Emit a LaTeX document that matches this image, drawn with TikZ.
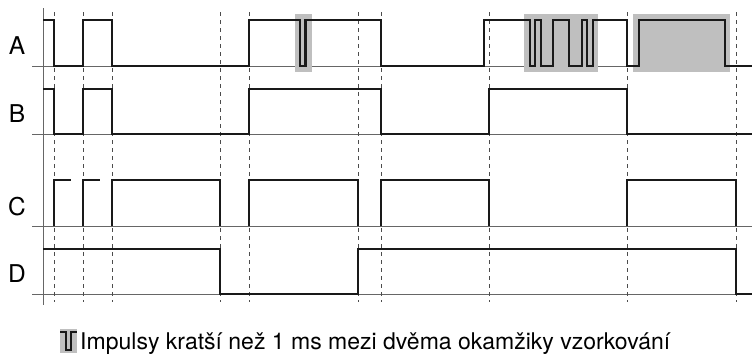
\documentclass[tikz,border=0pt]{standalone}
\usepackage{fontspec}
\setmainfont{TeX Gyre Heros}
\begin{document}
\begin{tikzpicture}[x=1pt,y=-1pt,
  signal/.style={line width=2.3pt,draw=black!90,line join=miter},
  baseline/.style={line width=0.9pt,draw=black!60},
  sample/.style={line width=0.9pt,draw=black!70,dash pattern=on 4pt off 4pt},
  glitch/.style={fill=black!25,draw=none},
  rowlabel/.style={font=\fontsize{24.5}{28}\selectfont,anchor=base,inner sep=0pt},
  legendtext/.style={font=\fontsize{23}{26}\selectfont,anchor=base west,inner sep=0pt}]
\useasboundingbox (0,0) rectangle (752,356);

% row baselines and time axis
\foreach \y in {66,134,226,294}
  \draw[baseline] (32,\y) -- (752,\y);
\draw[baseline] (43,8) -- (43,305);

% sampling instants
\foreach \x in {54,83,112,220,249,358,381,489,627,736}
  \draw[sample] (\x,12) -- (\x,302);

% highlighted short pulses on A
\fill[glitch] (295,14) rectangle (312,72);
\fill[glitch] (524,14) rectangle (598,72);
\fill[glitch] (633,14) rectangle (730,72);

% signal A
\draw[signal] (43,20) -- (54,20) -- (54,66) -- (83,66) -- (83,20) -- (112,20)
  -- (112,66) -- (249,66) -- (249,20) -- (300,20) -- (300,66) -- (305.5,66)
  -- (305.5,20) -- (381,20) -- (381,66) -- (484,66) -- (484,20) -- (530,20)
  -- (530,66) -- (535,66) -- (535,20) -- (541,20) -- (541,66) -- (553,66)
  -- (553,20) -- (569,20) -- (569,66) -- (582,66) -- (582,20) -- (587,20)
  -- (587,66) -- (593,66) -- (593,20) -- (627,20) -- (627,66) -- (639,66)
  -- (639,20) -- (725,20) -- (725,66) -- (752,66);

% signal B
\draw[signal] (43,89) -- (54,89) -- (54,134) -- (83,134) -- (83,89) -- (112,89)
  -- (112,134) -- (249,134) -- (249,89) -- (381,89) -- (381,134) -- (489,134)
  -- (489,89) -- (627,89) -- (627,134) -- (752,134);

% signal C
\draw[signal] (54,226) -- (54,180) -- (71,180);
\draw[signal] (83,226) -- (83,180) -- (100,180);
\draw[signal] (112,226) -- (112,180) -- (220,180) -- (220,226);
\draw[signal] (249,226) -- (249,180) -- (358,180) -- (358,226);
\draw[signal] (381,226) -- (381,180) -- (489,180) -- (489,226);
\draw[signal] (627,226) -- (627,180) -- (736,180) -- (736,226);

% signal D
\draw[signal] (43,249) -- (220,249) -- (220,294) -- (358,294) -- (358,249)
  -- (736,249) -- (736,294) -- (752,294);

% row labels
\node[rowlabel] (labA) at (17,54) {A};
\node[rowlabel] (labB) at (17,122) {B};
\node[rowlabel] (labC) at (17,215) {C};
\node[rowlabel] (labD) at (17,282) {D};

% legend: symbol for a short pulse, then its explanation
\fill[glitch] (60,329) rectangle (77,353);
\draw[line width=1.8pt,draw=black!90] (60,332) -- (66,332) -- (66,350) -- (71,350) -- (71,332) -- (77,332);
\node[legendtext] (legend) at (80,349) {Impulsy kratší než 1 ms mezi dvěma okamžiky vzorkování};
\end{tikzpicture}
\end{document}
